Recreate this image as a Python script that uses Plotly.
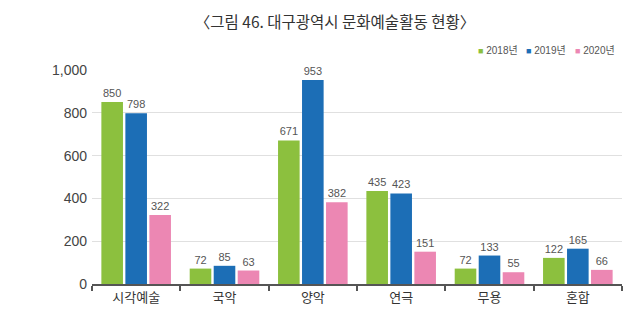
import plotly.graph_objects as go

# 대구광역시 문화예술활동 현황 (건수)
categories = ["시각예술", "국악", "양악", "연극", "무용", "혼합"]
years = ["2018년", "2019년", "2020년"]
values_2018 = [850, 72, 671, 435, 72, 122]
values_2019 = [798, 85, 953, 423, 133, 165]
values_2020 = [322, 63, 382, 151, 55, 66]
y_ticks = [0, 200, 400, 600, 800, 1000]
y_tick_labels = ["0", "200", "400", "600", "800", "1,000"]

colors = ["#8CC03E", "#1C6EB6", "#EC87B3"]
series = [values_2018, values_2019, values_2020]

FONT = "Liberation Sans, Arial, Noto Sans CJK KR, sans-serif"
KFONT = "Noto Sans CJK KR, sans-serif"

fig = go.Figure()
for name, vals, col in zip(years, series, colors):
    fig.add_trace(go.Bar(
        x=categories, y=vals, name=name,
        marker=dict(color=col, line=dict(width=0)),
        text=[str(v) for v in vals],
        textposition="outside",
        textfont=dict(size=11, color="#555555", family=FONT),
        constraintext="none",
        cliponaxis=False,
        showlegend=False,
    ))

# compact legend row above the plot, right side
legend_x = [0.725, 0.815, 0.907]
for name, col, lx in zip(years, colors, legend_x):
    fig.add_annotation(
        xref="paper", yref="paper", x=lx, y=1.093,
        xanchor="left", yanchor="middle", showarrow=False,
        text=f"<span style='color:{col};font-size:9px'>■</span> {name}",
        font=dict(size=10, color="#555555", family=FONT),
    )

fig.update_layout(
    width=640, height=332,
    margin=dict(l=92, r=18, t=70, b=48),
    paper_bgcolor="white", plot_bgcolor="white",
    barmode="group", bargap=0.185, bargroupgap=0.1,
    showlegend=False,
    title=dict(
        text="〈그림 46. 대구광역시 문화예술활동 현황〉",
        x=335 / 640, xanchor="center", xref="container",
        y=1 - 23 / 332, yanchor="middle",
        font=dict(size=15.5, color="#333333", family=KFONT),
    ),
    font=dict(family=FONT),
)

fig.update_xaxes(
    type="category",
    showline=True, linecolor="#555555", linewidth=2,
    ticks="outside", tickson="boundaries", ticklen=5,
    tickcolor="#555555", tickwidth=1.5,
    tickfont=dict(size=13, color="#333333", family=KFONT),
    showgrid=False,
)
fig.update_yaxes(
    range=[0, 1000],
    tickvals=y_ticks, ticktext=y_tick_labels,
    tickfont=dict(size=14, color="#444444", family=FONT),
    showgrid=True, gridcolor="#E0E0E0", gridwidth=1,
    zeroline=False, showline=False, ticks="",
    ticklabelstandoff=4,
)

fig.write_html("out.html")
